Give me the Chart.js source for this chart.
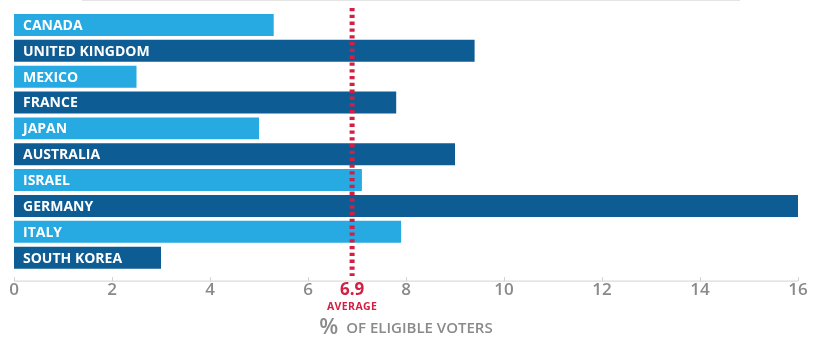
<!DOCTYPE html>
<html>
<head>
<meta charset="utf-8">
<script src="https://cdn.jsdelivr.net/npm/chart.js@4"></script>
<style>
  html, body { margin: 0; padding: 0; background: #fff; }
  #wrap { position: relative; width: 818px; height: 337px; }
  #rule { position: absolute; top: 0; left: 82px; width: 658px; height: 1px; background: #e4e4e4; }
</style>
</head>
<body>
<div id="wrap">
  <div id="rule"></div>
  <canvas id="turnout" width="818" height="337"></canvas>
</div>
<script>
// Countries, top to bottom
const countries = ['CANADA', 'UNITED KINGDOM', 'MEXICO', 'FRANCE', 'JAPAN',
                   'AUSTRALIA', 'ISRAEL', 'GERMANY', 'ITALY', 'SOUTH KOREA'];
// Share of eligible voters, %
const shares = [5.3, 9.4, 2.5, 7.8, 5.0, 9.0, 7.1, 16.0, 7.9, 3.0];
const average = 6.9;
const xTicks = [0, 2, 4, 6, 8, 10, 12, 14, 16];

const LIGHT = '#27a9e1';
const DARK = '#0e5c94';
const RED = '#d31f43';
const GREY = '#8a8a8a';

// Country names, axis line, average marker and axis caption
const overlay = {
    id: 'overlay',
    afterDatasetsDraw(chart) {
        const { ctx, chartArea, scales: { x, y } } = chart;
        const axisY = chartArea.bottom + 10.5;

        ctx.save();

        // names inside the bars
        ctx.font = '700 14px "Open Sans"';
        ctx.fillStyle = '#ffffff';
        ctx.textBaseline = 'middle';
        ctx.textAlign = 'left';
        countries.forEach((name, i) => {
            ctx.fillText(name, x.getPixelForValue(0) + 9, y.getPixelForValue(i) + 1);
        });

        // axis line with small upward ticks
        ctx.strokeStyle = '#d2d2d2';
        ctx.lineWidth = 1;
        ctx.beginPath();
        ctx.moveTo(x.getPixelForValue(xTicks[0]), axisY);
        ctx.lineTo(x.getPixelForValue(xTicks[xTicks.length - 1]), axisY);
        xTicks.forEach(v => {
            const px = Math.round(x.getPixelForValue(v)) + 0.5;
            ctx.moveTo(px, axisY);
            ctx.lineTo(px, axisY - 4);
        });
        ctx.stroke();

        // dotted average line
        const ax = x.getPixelForValue(average);
        ctx.strokeStyle = RED;
        ctx.lineWidth = 5;
        ctx.setLineDash([3.3, 3.5]);
        ctx.beginPath();
        ctx.moveTo(ax, chartArea.top - 4);
        ctx.lineTo(ax, axisY - 5);
        ctx.stroke();
        ctx.setLineDash([]);

        // average value and caption
        ctx.fillStyle = RED;
        ctx.textAlign = 'center';
        ctx.font = '700 17px "Open Sans"';
        ctx.fillText(average.toFixed(1), ax, axisY + 9);
        ctx.font = '700 10.5px "Open Sans"';
        ctx.letterSpacing = '0.4px';
        ctx.fillText('AVERAGE', ax, axisY + 26);
        ctx.letterSpacing = '0px';

        // axis caption: large % followed by smaller text
        const cx = (chartArea.left + chartArea.right) / 2;
        const big = '%';
        const small = 'OF ELIGIBLE VOTERS';
        ctx.fillStyle = GREY;
        ctx.textAlign = 'left';
        ctx.font = '600 22px "Open Sans"';
        const wBig = ctx.measureText(big).width;
        ctx.font = '600 15px "Open Sans"';
        const wSmall = ctx.measureText(small).width;
        const gap = 8;
        const left = cx - (wBig + gap + wSmall) / 2;
        ctx.textBaseline = 'alphabetic';
        ctx.font = '600 22px "Open Sans"';
        ctx.fillText(big, left, axisY + 53);
        ctx.font = '600 15px "Open Sans"';
        ctx.fillText(small, left + wBig + gap, axisY + 52);

        ctx.restore();
    }
};

new Chart(document.getElementById('turnout'), {
    type: 'bar',
    data: {
        labels: countries,
        datasets: [{
            data: shares,
            backgroundColor: shares.map((_, i) => i % 2 === 0 ? LIGHT : DARK),
            borderWidth: 0,
            barPercentage: 0.85,
            categoryPercentage: 1.0
        }]
    },
    options: {
        indexAxis: 'y',
        responsive: false,
        animation: false,
        devicePixelRatio: 1,
        layout: { padding: { left: 14, right: 20, top: 12, bottom: 28 } },
        plugins: {
            legend: { display: false },
            tooltip: { enabled: false }
        },
        scales: {
            y: { display: false },
            x: {
                min: 0,
                max: 16,
                afterBuildTicks: scale => { scale.ticks = xTicks.map(v => ({ value: v })); },
                grid: { display: false, drawTicks: false },
                border: { display: false },
                ticks: {
                    padding: 9,
                    color: GREY,
                    font: { family: '"Open Sans"', size: 17, weight: '600' }
                }
            }
        }
    },
    plugins: [overlay]
});
</script>
</body>
</html>
